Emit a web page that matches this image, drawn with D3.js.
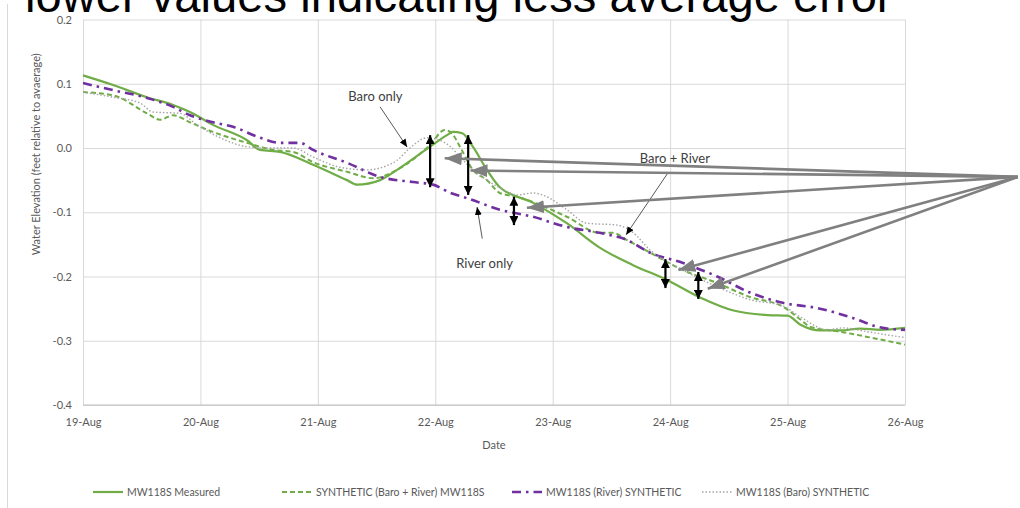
<!DOCTYPE html>
<html>
<head>
<meta charset="utf-8">
<script src="https://cdn.jsdelivr.net/npm/d3@7"></script>
<style>
  html, body { margin: 0; padding: 0; background: #ffffff; }
  svg { display: block; }
  text { font-family: Lato, "Open Sans", sans-serif; }
</style>
</head>
<body>
<svg id="chart" width="1020" height="508"></svg>
<script>
// ---- data ---------------------------------------------------------------
// Day offsets are measured from 19-Aug 00:00; values are feet relative to average.
const startDate = new Date(2019, 7, 19);

const xTickDays   = [0, 1, 2, 3, 4, 5, 6, 7];
const xTickLabels = ["19-Aug", "20-Aug", "21-Aug", "22-Aug", "23-Aug", "24-Aug", "25-Aug", "26-Aug"];
const yTicks      = [0.2, 0.1, 0.0, -0.1, -0.2, -0.3, -0.4];
const yTickLabels = ["0.2", "0.1", "0.0", "-0.1", "-0.2", "-0.3", "-0.4"];

const measured = [
  [0, 0.113], [0.256, 0.098], [0.545, 0.079], [0.767, 0.067], [0.911, 0.056],
  [1.107, 0.036], [1.397, 0.012], [1.508, -0.003], [1.678, -0.006], [1.959, -0.026],
  [2.249, -0.050], [2.334, -0.057], [2.53, -0.050], [2.675, -0.034], [2.956, 0.002],
  [3.10, 0.020], [3.15, 0.025], [3.23, 0.023], [3.32, 0.002], [3.44, -0.034],
  [3.55, -0.061], [3.83, -0.085], [4.12, -0.117], [4.40, -0.155], [4.68, -0.182],
  [4.97, -0.205], [5.26, -0.233], [5.54, -0.253], [5.83, -0.260], [6.00, -0.261],
  [6.11, -0.275], [6.28, -0.284], [6.45, -0.284], [6.62, -0.281], [6.79, -0.283],
  [7.00, -0.280]
];

const synthBaroRiver = [
  [0, 0.087], [0.256, 0.082], [0.545, 0.054], [0.656, 0.044], [0.767, 0.051],
  [0.911, 0.040], [1.107, 0.025], [1.397, 0.008], [1.618, -0.003], [1.789, -0.006],
  [1.959, -0.022], [2.249, -0.037], [2.47, -0.047], [2.675, -0.034], [2.956, 0.005],
  [3.08, 0.028], [3.14, 0.023], [3.21, 0.002], [3.32, -0.034], [3.44, -0.050],
  [3.55, -0.070], [3.70, -0.076], [3.83, -0.084], [4.12, -0.107], [4.40, -0.132],
  [4.51, -0.132], [4.63, -0.143], [4.83, -0.163], [5.11, -0.190], [5.40, -0.210],
  [5.68, -0.232], [5.96, -0.247], [6.11, -0.267], [6.19, -0.278], [6.45, -0.286],
  [6.68, -0.294], [7.00, -0.306]
];

const synthRiver = [
  [0, 0.101], [0.256, 0.090], [0.545, 0.078], [0.767, 0.064], [0.911, 0.051],
  [1.107, 0.040], [1.278, 0.033], [1.508, 0.016], [1.678, 0.008], [1.848, 0.008],
  [1.959, -0.003], [2.249, -0.023], [2.53, -0.045], [2.81, -0.053], [2.98, -0.057],
  [3.13, -0.070], [3.27, -0.078], [3.55, -0.096], [3.83, -0.107], [4.12, -0.123],
  [4.40, -0.132], [4.63, -0.143], [4.83, -0.163], [5.11, -0.179], [5.40, -0.200],
  [5.68, -0.225], [5.96, -0.241], [6.25, -0.249], [6.53, -0.263], [6.81, -0.280],
  [7.00, -0.283]
];

const synthBaro = [
  [0, 0.087], [0.256, 0.079], [0.486, 0.070], [0.596, 0.056], [0.826, 0.054],
  [0.971, 0.036], [1.167, 0.016], [1.397, 0.002], [1.567, 0.000], [1.789, 0.000],
  [1.959, -0.014], [2.189, -0.030], [2.419, -0.034], [2.53, -0.031], [2.675, -0.019],
  [2.785, 0.000], [2.93, 0.016], [3.04, 0.012], [3.13, 0.002], [3.21, -0.014],
  [3.32, -0.034], [3.44, -0.050], [3.55, -0.062], [3.70, -0.073], [3.83, -0.070],
  [3.95, -0.076], [4.12, -0.096], [4.29, -0.117], [4.55, -0.120], [4.68, -0.131],
  [4.83, -0.159], [5.11, -0.190], [5.40, -0.216], [5.68, -0.236], [5.96, -0.246],
  [6.11, -0.263], [6.34, -0.283], [6.47, -0.280], [6.68, -0.286], [6.85, -0.291],
  [7.00, -0.295]
];

const seriesNames = [
  "MW118S Measured",
  "SYNTHETIC (Baro + River) MW118S",
  "MW118S (River) SYNTHETIC",
  "MW118S (Baro) SYNTHETIC"
];

// Vertical error bars: [day, top value, bottom value]
const errorBars = [
  [2.956, 0.020, -0.061],
  [3.28, 0.020, -0.073],
  [3.67, -0.076, -0.120],
  [4.96, -0.173, -0.218],
  [5.24, -0.193, -0.235]
];

// Pointer arrows fanning out from a common origin (day, value) to each error bar
const pointerOrigin = [7.96, -0.045];
const pointerTips = [
  [3.08, -0.016],
  [3.30, -0.035],
  [3.78, -0.093],
  [5.07, -0.190],
  [5.32, -0.219]
];

// Callout labels: text, label position, arrow start, arrow end (day, value)
const callouts = [
  { text: "Baro only",    at: [2.49, 0.081],  from: [2.53, 0.064],  to: [2.76, 0.0015] },
  { text: "River only",   at: [3.42, -0.179], from: [3.40, -0.141], to: [3.356, -0.092] },
  { text: "Baro + River", at: [5.04, -0.017], from: [4.98, -0.039], to: [4.625, -0.135] }
];

const headline = "lower values indicating less average error";

// ---- layout -------------------------------------------------------------
const svg = d3.select("#chart");
const plot = { left: 83, right: 905, top: 19.5, bottom: 405 };
const toDate = d => new Date(startDate.getTime() + d * 864e5);

const x = d3.scaleTime()
  .domain([toDate(0), toDate(7)])
  .range([plot.left, plot.right]);
const y = d3.scaleLinear()
  .domain([-0.4, 0.2])
  .range([plot.bottom, plot.top]);

const axisColor = "#595959";
const gridColor = "#d9d9d9";

// chart frame edge
svg.append("line")
  .attr("x1", 7.5).attr("x2", 7.5).attr("y1", 4).attr("y2", 508)
  .attr("stroke", "#d9d9d9").attr("stroke-width", 1);

// ---- axes and gridlines -------------------------------------------------
const yAxis = svg.append("g")
  .attr("transform", `translate(${plot.left},0)`)
  .call(d3.axisLeft(y)
    .tickValues(yTicks)
    .tickFormat((d, i) => yTickLabels[i])
    .tickSize(-(plot.right - plot.left))
    .tickPadding(11));
yAxis.select(".domain").remove();
yAxis.selectAll(".tick line").attr("stroke", gridColor).attr("stroke-width", 1);
yAxis.selectAll(".tick text")
  .attr("fill", axisColor).style("font-size", "11px").style("font-family", "Lato, sans-serif");

const xAxis = svg.append("g")
  .attr("transform", `translate(0,${plot.bottom})`)
  .call(d3.axisBottom(x)
    .tickValues(xTickDays.map(toDate))
    .tickFormat((d, i) => xTickLabels[i])
    .tickSize(-(plot.bottom - plot.top))
    .tickPadding(13));
xAxis.select(".domain").remove();
xAxis.selectAll(".tick line").attr("stroke", gridColor).attr("stroke-width", 1);
xAxis.selectAll(".tick text")
  .attr("fill", axisColor).style("font-size", "11px").style("font-family", "Lato, sans-serif");

// bottom axis line
svg.append("line")
  .attr("x1", plot.left).attr("x2", plot.right)
  .attr("y1", plot.bottom).attr("y2", plot.bottom)
  .attr("stroke", "#bfbfbf").attr("stroke-width", 1);

// axis titles
svg.append("text")
  .attr("transform", `translate(40,${(plot.top + plot.bottom) / 2 - 58}) rotate(-90)`)
  .attr("text-anchor", "middle")
  .attr("fill", axisColor)
  .style("font-size", "11px")
  .text("Water Elevation (feet relative to avaerage)");

svg.append("text")
  .attr("x", (plot.left + plot.right) / 2)
  .attr("y", 449)
  .attr("text-anchor", "middle")
  .attr("fill", axisColor)
  .style("font-size", "11px")
  .text("Date");

// ---- series -------------------------------------------------------------
const line = d3.line()
  .x(d => x(toDate(d[0])))
  .y(d => y(d[1]))
  .curve(d3.curveMonotoneX);

const styles = [
  { data: measured,       color: "#70ad47", width: 2.2, dash: null },
  { data: synthBaroRiver, color: "#70ad47", width: 2.0, dash: "5,3" },
  { data: synthRiver,     color: "#7030a0", width: 2.6, dash: "9,5,2.5,5" },
  { data: synthBaro,      color: "#a5a5a5", width: 1.4, dash: "1.5,2" }
];

styles.forEach(s => {
  svg.append("path")
    .datum(s.data)
    .attr("fill", "none")
    .attr("stroke", s.color)
    .attr("stroke-width", s.width)
    .attr("stroke-dasharray", s.dash)
    .attr("stroke-linejoin", "round")
    .attr("d", line);
});

// ---- legend -------------------------------------------------------------
const legendY = 492;
const legendStarts = [93, 282, 512, 702];
styles.forEach((s, i) => {
  const g = svg.append("g").attr("transform", `translate(${legendStarts[i]},${legendY})`);
  g.append("line")
    .attr("x1", 0).attr("x2", 30).attr("y1", 0).attr("y2", 0)
    .attr("stroke", s.color)
    .attr("stroke-width", s.width)
    .attr("stroke-dasharray", s.dash);
  g.append("text")
    .attr("x", 34).attr("y", 0).attr("dy", "0.35em")
    .attr("fill", axisColor)
    .style("font-size", "10.5px")
    .text(seriesNames[i]);
});

// ---- annotations --------------------------------------------------------
const defs = svg.append("defs");
function marker(id, len, wid, color) {
  defs.append("marker")
    .attr("id", id)
    .attr("markerUnits", "userSpaceOnUse")
    .attr("viewBox", `0 0 ${len} ${wid}`)
    .attr("refX", len).attr("refY", wid / 2)
    .attr("markerWidth", len).attr("markerHeight", wid)
    .attr("orient", "auto-start-reverse")
    .append("path")
    .attr("d", `M0,0L${len},${wid / 2}L0,${wid}Z`)
    .attr("fill", color);
}
marker("headBlack", 9, 9, "#000000");
marker("headGray", 17, 13, "#808080");
marker("headSmall", 8, 7, "#000000");

const pt = d => [x(toDate(d[0])), y(d[1])];

// callout labels with thin arrows
callouts.forEach(c => {
  const [ax, ay] = pt(c.at);
  svg.append("text")
    .attr("x", ax).attr("y", ay).attr("dy", "0.35em")
    .attr("text-anchor", "middle")
    .attr("fill", "#404040")
    .style("font-size", "13px")
    .text(c.text);
  const [fx, fy] = pt(c.from);
  const [tx, ty] = pt(c.to);
  svg.append("line")
    .attr("x1", fx).attr("y1", fy).attr("x2", tx).attr("y2", ty)
    .attr("stroke", "#595959").attr("stroke-width", 1)
    .attr("marker-end", "url(#headSmall)");
});

// double-headed error bars
errorBars.forEach(b => {
  const bx = x(toDate(b[0]));
  svg.append("line")
    .attr("x1", bx).attr("x2", bx)
    .attr("y1", y(b[1])).attr("y2", y(b[2]))
    .attr("stroke", "#000000").attr("stroke-width", 2.2)
    .attr("marker-start", "url(#headBlack)")
    .attr("marker-end", "url(#headBlack)");
});

// grey pointers fanning out from a common origin
const [ox, oy] = pt(pointerOrigin);
pointerTips.forEach(t => {
  const [tx, ty] = pt(t);
  svg.append("line")
    .attr("x1", ox).attr("y1", oy).attr("x2", tx).attr("y2", ty)
    .attr("stroke", "#808080").attr("stroke-width", 2.6)
    .attr("marker-end", "url(#headGray)");
});

// ---- headline (runs off the top edge) ------------------------------------
const head = svg.append("text")
  .attr("x", 25).attr("y", 12)
  .attr("fill", "#000000")
  .style("font-family", "'Liberation Sans', Arial, sans-serif")
  .style("font-size", "40px")
  .text(headline);
const w = head.node().getComputedTextLength();
head.style("font-size", (40 * 868 / w) + "px");
</script>
</body>
</html>
